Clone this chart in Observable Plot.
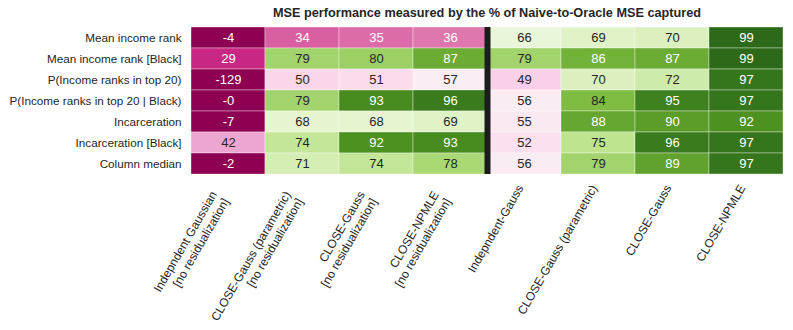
<!DOCTYPE html>
<html><head><meta charset="utf-8">
<script src="https://cdn.jsdelivr.net/npm/d3@7"></script>
<script src="https://cdn.jsdelivr.net/npm/@observablehq/plot@0.6"></script>
<style>
body{margin:0;background:#fff;font-family:"Liberation Sans",Arial,sans-serif;}
#title{margin-left:191px;width:592px;height:27px;line-height:27px;text-align:center;font-weight:bold;font-size:12.7px;color:#262626;}
#chart svg{display:block;}
</style></head>
<body>
<div id="title">MSE performance measured by the % of Naive-to-Oracle MSE captured</div>
<div id="chart"></div>
<script>
const rows = ["Mean income rank","Mean income rank [Black]","P(Income ranks in top 20)","P(Income ranks in top 20 | Black)","Incarceration","Incarceration [Black]","Column median"];
const cols = ["Indepndent Gaussian\n[no residualization]","CLOSE-Gauss (parametric)\n[no residualization]","CLOSE-Gauss\n[no residualization]","CLOSE-NPMLE\n[no residualization]","Indepndent-Gauss","CLOSE-Gauss (parametric)","CLOSE-Gauss","CLOSE-NPMLE"];
const indepGaussNoResid = [-4, 29, -129, -0, -7, 42, -2];
const closeGaussParamNoResid = [34, 79, 50, 79, 68, 74, 71];
const closeGaussNoResid = [35, 80, 51, 93, 68, 92, 74];
const closeNpmleNoResid = [36, 87, 57, 96, 69, 93, 78];
const indepGauss = [66, 79, 49, 56, 55, 52, 56];
const closeGaussParam = [69, 86, 70, 84, 88, 75, 79];
const closeGauss = [70, 87, 72, 95, 90, 96, 89];
const closeNpmle = [99, 99, 97, 97, 92, 97, 97];
const series = [indepGaussNoResid, closeGaussParamNoResid, closeGaussNoResid, closeNpmleNoResid, indepGauss, closeGaussParam, closeGauss, closeNpmle];
const colorDomain = [20, 100];

const PIYG = ["#8e0152","#c51b7d","#de77ae","#f1b6da","#fde0ef","#f7f7f7","#e6f5d0","#b8e186","#7fbc41","#4d9221","#276419"];
const interp = d3.piecewise(d3.interpolateRgb, PIYG);

const cells = [];
series.forEach((vals, c) => vals.forEach((v, r) => cells.push({col: c, row: r, value: v})));

const colorOf = v => interp(Math.max(0, Math.min(1, (v - colorDomain[0]) / (colorDomain[1] - colorDomain[0]))));
function lum(c) {
  const o = d3.rgb(c);
  const f = x => { x /= 255; return x <= 0.03928 ? x / 12.92 : Math.pow((x + 0.055) / 1.055, 2.4); };
  return 0.2126 * f(o.r) + 0.7152 * f(o.g) + 0.0722 * f(o.b);
}
const fmt = v => ((v < 0 || Object.is(v, -0)) ? "-" : "") + Math.abs(v);

const colIdx = cols.map((_, i) => i);
const multi = colIdx.filter(i => cols[i].includes("\n"));
const single = colIdx.filter(i => !cols[i].includes("\n"));

const chart = Plot.plot({
  width: 793,
  height: 303,
  marginLeft: 191,
  marginRight: 10,
  marginTop: 0,
  marginBottom: 156,
  style: {fontFamily: "Liberation Sans, Arial, sans-serif", color: "#262626"},
  x: {domain: [0, 8], axis: null},
  y: {domain: [0, 7], reverse: true, axis: null},
  color: {type: "linear", domain: colorDomain, interpolate: interp, clamp: true},
  marks: [
    Plot.rect(cells, {x1: "col", x2: d => d.col + 1, y1: "row", y2: d => d.row + 1, fill: "value", stroke: "white", strokeWidth: 0.6, strokeOpacity: 0.6}),
    Plot.text(cells, {x: d => d.col + 0.5, y: d => d.row + 0.5, text: d => fmt(d.value), fontSize: 13,
      fill: d => lum(colorOf(d.value)) > 0.408 ? "#262626" : "#ffffff"}),
    Plot.ruleX([4], {stroke: "#1c1c1c", strokeWidth: 6}),
    Plot.axisY({ticks: rows.map((_, i) => i + 0.5), tickFormat: d => rows[Math.floor(d)], label: null, tickSize: 0, tickPadding: 10, fontSize: 11.7, fill: "#262626"}),
    Plot.text(multi, {x: i => i + 0.5, text: i => cols[i], frameAnchor: "bottom", rotate: -60, textAnchor: "end", lineAnchor: "middle", lineHeight: 1.17, dx: -9, dy: 21, fontSize: 12, fill: "#262626"}),
    Plot.text(single, {x: i => i + 0.5, text: i => cols[i], frameAnchor: "bottom", rotate: -60, textAnchor: "end", lineAnchor: "middle", dx: -4, dy: 11.5, fontSize: 12, fill: "#262626"})
  ]
});
document.getElementById("chart").appendChild(chart);
</script>
</body></html>
